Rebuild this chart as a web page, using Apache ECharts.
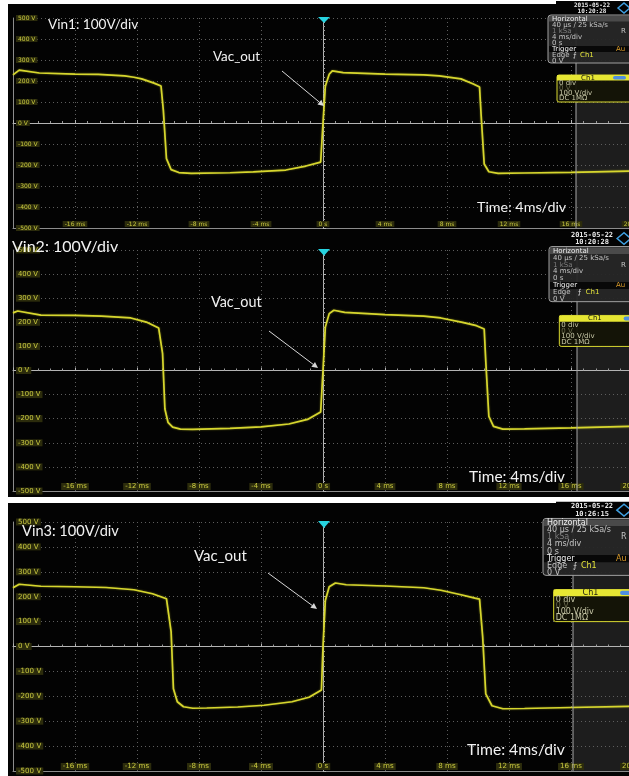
<!DOCTYPE html>
<html>
<head>
<meta charset="utf-8">
<script src="https://cdn.jsdelivr.net/npm/echarts@6/dist/echarts.min.js"></script>
<style>
  html, body { margin: 0; padding: 0; background: #ffffff; }
  #chart { width: 629px; height: 776px; }
</style>
</head>
<body>
<div id="chart"></div>
<script>
// Captured waveforms: time in ms, voltage in V
const time1 = [-20, -19.6, -18.3, -16, -14.5, -12.8, -12.2, -11.7, -10.9, -10.45, -10.3, -10.1, -9.8, -9.3, -8.5, -6.0, -4.5, -2.4, -1.1, -0.15, 0.0, 0.15, 0.4, 0.6, 1.3, 4.0, 6.5, 7.5, 8.9, 9.7, 10.1, 10.2, 10.4, 10.7, 11.3, 13, 16, 19.8];
const vin1  = [229, 252, 238, 233, 232, 224, 218, 210, 190, 176, 60, -170, -222, -236, -240, -237, -233, -224, -205, -186, 0, 175, 232, 248, 240, 233, 229, 224, 210, 186, 171, 40, -195, -232, -240, -238, -235, -229];

const time2 = [-20, -19.7, -18.2, -16, -14.3, -12.4, -11.4, -10.6, -10.35, -10.2, -10.0, -9.7, -9.2, -8.4, -6.0, -4.0, -2.2, -1.0, -0.15, 0.0, 0.15, 0.4, 0.7, 1.4, 4.0, 6.5, 7.6, 9.0, 9.9, 10.4, 10.5, 10.7, 11.0, 11.6, 13, 16, 19.8];
const vin2  = [239, 247, 230, 229, 226, 218, 201, 176, 70, -160, -215, -235, -243, -244, -240, -234, -222, -203, -172, 0, 180, 236, 250, 241, 232, 226, 218, 200, 186, 172, 40, -190, -232, -243, -242, -238, -232];

const time3 = [-20, -19.6, -18.2, -16, -14.0, -12.2, -11.0, -10.1, -9.8, -9.65, -9.4, -9.0, -8.4, -7.5, -5.5, -3.8, -2.0, -0.9, -0.1, 0.0, 0.15, 0.4, 0.8, 1.5, 4.0, 6.5, 7.6, 8.9, 9.8, 10.1, 10.3, 10.5, 10.9, 11.6, 13, 16, 19.8];
const vin3  = [236, 250, 242, 240, 237, 228, 212, 192, 60, -170, -222, -242, -248, -247, -243, -236, -222, -204, -175, 0, 185, 240, 255, 248, 243, 236, 226, 208, 194, 190, 40, -190, -238, -250, -249, -245, -240];

// Axis ticks and their texts
const timeTicks = [-20, -16, -12, -8, -4, 0, 4, 8, 12, 16, 20];
const timeTickText = ['', '-16 ms', '-12 ms', '-8 ms', '-4 ms', '0 s', '4 ms', '8 ms', '12 ms', '16 ms', '20 ms'];
const voltTicks = [-500, -400, -300, -200, -100, 0, 100, 200, 300, 400, 500];
const voltTickText = ['-500 V', '-400 V', '-300 V', '-200 V', '-100 V', '0 V', '100 V', '200 V', '300 V', '400 V', '500 V'];

const channelTitles = ['Vin1: 100V/div', 'Vin2: 100V/div', 'Vin3: 100V/div'];
const timestamps = [['2015-05-22', '10:20:28'], ['2015-05-22', '10:20:28'], ['2015-05-22', '10:26:15']];

const traces = [[time1, vin1], [time2, vin2], [time3, vin3]];

// Screen layout of the three stacked captures
const layout = [
  { top: 18,  height: 210, s: 1.0,   bgTop: 4,   bgBottom: 231, boxX: 548, vline: 576,
    titleX: 48, titleY: 18, titleFont: 13.6, vacX: 213, vacY: 50, vacFont: 13.4,
    arrow: [282, 71, 324, 106], timeX: 477, timeY: 200, timeFont: 14.3 },
  { top: 250, height: 241, s: 1.148, bgTop: 231, bgBottom: 497, boxX: 549, vline: 577,
    titleX: 12, titleY: 239, titleFont: 16, vacX: 211, vacY: 295, vacFont: 14.4,
    arrow: [269, 331, 318, 368], timeX: 469, timeY: 470, timeFont: 15.4 },
  { top: 522, height: 249, s: 1.186, bgTop: 503, bgBottom: 776, boxX: 543, vline: 573,
    titleX: 22, titleY: 524, titleFont: 14.6, vacX: 194, vacY: 549, vacFont: 15,
    arrow: [268, 573, 317, 609], timeX: 467, timeY: 742, timeFont: 15.7 }
];

const LABEL_YELLOW = '#c9c940';
const LABEL_BG = '#2c2c0c';
const TRACE = '#d6d62e';

function timeLabel(v) {
  const i = timeTicks.indexOf(Math.round(v));
  return i >= 0 ? timeTickText[i] : '';
}
function voltLabel(v) {
  const i = voltTicks.indexOf(Math.round(v));
  return i >= 0 ? voltTickText[i] : '';
}

const grids = [], xAxes = [], yAxes = [], series = [], graphics = [];

layout.forEach((p, i) => {
  grids.push({ left: 13, top: p.top, width: 620, height: p.height, containLabel: false, outerBoundsMode: 'none' });

  // outer axes carrying labels and dotted graticule
  xAxes.push({
    gridIndex: i, type: 'value', min: -20, max: 20, interval: 4, position: 'bottom',
    axisLine: { show: true, onZero: false, lineStyle: { color: '#8c8c8c', width: 1 } },
    axisTick: { show: false },
    axisLabel: {
      inside: true, margin: 1, formatter: timeLabel, showMinLabel: false,
      color: LABEL_YELLOW, fontSize: 6 * p.s, fontFamily: 'DejaVu Sans',
      backgroundColor: LABEL_BG, padding: [0, 2]
    },
    splitLine: { show: true, lineStyle: { color: '#5e5e5e', width: 1, type: [1, 3] } }
  });
  // centre crosshair with minor ticks
  xAxes.push({
    gridIndex: i, type: 'value', min: -20, max: 20, interval: 4, position: 'bottom',
    axisLine: { show: true, onZero: true, lineStyle: { color: '#b4b4b4', width: 1 } },
    axisTick: { show: true, inside: true, length: 3, lineStyle: { color: '#b4b4b4' } },
    minorTick: { show: true, splitNumber: 5, length: 2, lineStyle: { color: '#9a9a9a' } },
    axisLabel: { show: false }, splitLine: { show: false }
  });
  yAxes.push({
    gridIndex: i, type: 'value', min: -500, max: 500, interval: 100, position: 'left',
    axisLine: { show: true, onZero: false, lineStyle: { color: '#8c8c8c', width: 1 } },
    axisTick: { show: false },
    axisLabel: {
      inside: true, margin: 3, formatter: voltLabel,
      color: LABEL_YELLOW, fontSize: 6 * p.s, fontFamily: 'DejaVu Sans',
      backgroundColor: LABEL_BG, padding: [0, 2]
    },
    splitLine: { show: true, lineStyle: { color: '#5e5e5e', width: 1, type: [1, 3] } }
  });
  yAxes.push({
    gridIndex: i, type: 'value', min: -500, max: 500, interval: 100, position: 'left',
    axisLine: { show: true, onZero: true, lineStyle: { color: '#b4b4b4', width: 1 } },
    axisTick: { show: true, inside: true, length: 3, lineStyle: { color: '#b4b4b4' } },
    minorTick: { show: true, splitNumber: 5, length: 2, lineStyle: { color: '#9a9a9a' } },
    axisLabel: { show: false }, splitLine: { show: false }
  });

  const [tt, vv] = traces[i];
  series.push({
    type: 'line', xAxisIndex: 2 * i, yAxisIndex: 2 * i,
    data: tt.map((t, k) => [t, vv[k]]),
    showSymbol: false, z: 5, clip: true,
    lineStyle: { color: TRACE, width: 1.7, shadowColor: 'rgba(214,214,46,0.5)', shadowBlur: 2 }
  });

  const s = p.s;
  // black screen area
  graphics.push({ type: 'rect', z: -10, shape: { x: 8, y: p.bgTop, width: 621, height: p.bgBottom - p.bgTop }, style: { fill: '#030303' } });
  // shaded side region of the display
  graphics.push({ type: 'rect', z: -9, shape: { x: p.vline, y: p.top - 2, width: 629 - p.vline, height: p.height + 2 }, style: { fill: '#1d1d1d' } });
  graphics.push({ type: 'line', z: 30, shape: { x1: p.vline, y1: p.top - 2, x2: p.vline, y2: p.top + p.height }, style: { stroke: '#a8a8a8', lineWidth: 1 } });

  // trigger marker
  graphics.push({ type: 'polygon', z: 40, shape: { points: [[318, p.top - 1], [330, p.top - 1], [324, p.top + 5 * s]] }, style: { fill: '#27d3e0' } });

  // channel title, annotation, time base
  graphics.push({ type: 'text', z: 50, x: p.titleX, y: p.titleY, style: { text: channelTitles[i], fill: '#f2f2f2', font: `${p.titleFont}px Lato`, textVerticalAlign: 'top' } });
  graphics.push({ type: 'text', z: 50, x: p.vacX, y: p.vacY, style: { text: 'Vac_out', fill: '#f2f2f2', font: `${p.vacFont}px Lato`, textVerticalAlign: 'top' } });
  graphics.push({ type: 'text', z: 50, x: p.timeX, y: p.timeY, style: { text: 'Time: 4ms/div', fill: '#f2f2f2', font: `${p.timeFont}px Lato`, textVerticalAlign: 'top' } });

  // arrow pointing at the output edge
  const [ax1, ay1, ax2, ay2] = p.arrow;
  const ang = Math.atan2(ay2 - ay1, ax2 - ax1);
  const hl = 6, hw = 3;
  const bx = ax2 - hl * Math.cos(ang), by = ay2 - hl * Math.sin(ang);
  graphics.push({ type: 'line', z: 50, shape: { x1: ax1, y1: ay1, x2: bx, y2: by }, style: { stroke: '#d8d8d8', lineWidth: 1 } });
  graphics.push({ type: 'polygon', z: 50, shape: { points: [[ax2, ay2], [bx + hw * Math.sin(ang), by - hw * Math.cos(ang)], [bx - hw * Math.sin(ang), by + hw * Math.cos(ang)]] }, style: { fill: '#d8d8d8' } });

  // date / time stamp and logo
  const dY = p.top - 13 * s;
  graphics.push({ type: 'rect', z: 45, shape: { x: 556, y: dY - 4 * s, width: 73, height: 13 * s }, style: { fill: '#030303' } });
  graphics.push({ type: 'text', z: 50, x: 592, y: dY, style: { text: timestamps[i][0], fill: '#e8e8e8', font: `bold ${Math.round(6 * s)}px "DejaVu Sans Mono"`, textAlign: 'center', textVerticalAlign: 'middle' } });
  graphics.push({ type: 'text', z: 50, x: 592, y: dY + 6 * s, style: { text: timestamps[i][1], fill: '#e8e8e8', font: `bold ${Math.round(6 * s)}px "DejaVu Sans Mono"`, textAlign: 'center', textVerticalAlign: 'middle' } });
  const lx = 624, ly = dY + 3 * s;
  graphics.push({ type: 'polygon', z: 50, shape: { points: [[lx - 6 * s, ly], [lx, ly - 5 * s], [lx + 6 * s, ly], [lx, ly + 5 * s]] }, style: { fill: 'none', stroke: '#3f9fe0', lineWidth: 1.5 } });

  // Horizontal / Trigger info box
  const bx0 = p.boxX, by0 = p.top - 3 * s, row = 6 * s, fs = Math.round(6.5 * s);
  const mono = `${fs}px "DejaVu Sans"`;
  graphics.push({ type: 'rect', z: 60, shape: { x: bx0, y: by0, width: 640 - bx0, height: 48 * s, r: 3 }, style: { fill: 'rgba(38,38,38,0.95)', stroke: '#a0a0a0', lineWidth: 1 } });
  graphics.push({ type: 'rect', z: 61, shape: { x: bx0 + 1, y: by0 + 1, width: 640 - bx0, height: row - 0.5 }, style: { fill: '#4a4a4a' } });
  graphics.push({ type: 'rect', z: 61, shape: { x: bx0 + 1, y: by0 + 1 + 5 * row, width: 640 - bx0, height: row }, style: { fill: '#080808' } });
  const infoRows = [
    ['Horizontal', '#f0f0f0'], ['40 µs / 25 kSa/s', '#c4c4c4'], ['1 kSa', '#7c7c7c'], ['4 ms/div', '#c4c4c4'],
    ['0 s', '#c4c4c4'], ['Trigger', '#f0f0f0'], ['Edge', '#c4c4c4'], ['0 V', '#c4c4c4']
  ];
  infoRows.forEach((r, k) => {
    graphics.push({ type: 'text', z: 62, x: bx0 + 4, y: by0 + 1 + row * (k + 0.5), style: { text: r[0], fill: r[1], font: mono, textVerticalAlign: 'middle' } });
  });
  graphics.push({ type: 'text', z: 62, x: 621, y: by0 + 1 + row * 2.5, style: { text: 'R', fill: '#c4c4c4', font: mono, textVerticalAlign: 'middle' } });
  graphics.push({ type: 'text', z: 62, x: 616, y: by0 + 1 + row * 5.5, style: { text: 'Au', fill: '#d89a2a', font: mono, textVerticalAlign: 'middle' } });
  graphics.push({ type: 'text', z: 62, x: bx0 + 25 * s, y: by0 + 1 + row * 6.5, style: { text: '⨍', fill: '#e0e0e0', font: mono, textVerticalAlign: 'middle' } });
  graphics.push({ type: 'text', z: 62, x: bx0 + 32 * s, y: by0 + 1 + row * 6.5, style: { text: 'Ch1', fill: '#e4e43a', font: mono, textVerticalAlign: 'middle' } });

  // Channel 1 setup box
  const cx0 = bx0 + 9 * s, cy0 = p.top + 57 * s, crow = 5 * s;
  graphics.push({ type: 'rect', z: 60, shape: { x: cx0, y: cy0, width: 640 - cx0, height: 27 * s, r: 2 }, style: { fill: 'rgba(20,20,6,0.95)', stroke: '#d8d830', lineWidth: 1 } });
  graphics.push({ type: 'rect', z: 61, shape: { x: cx0, y: cy0, width: 640 - cx0, height: 5.5 * s }, style: { fill: '#e6e633' } });
  graphics.push({ type: 'text', z: 62, x: cx0 + 31 * s, y: cy0 + 2.8 * s, style: { text: 'Ch1', fill: '#202010', font: mono, textAlign: 'center', textVerticalAlign: 'middle' } });
  graphics.push({ type: 'rect', z: 62, shape: { x: cx0 + 56 * s, y: cy0 + 1 * s, width: 13 * s, height: 3.5 * s, r: 2 }, style: { fill: '#4f8fe0' } });
  const chRows = [['0 div', '#c8c8a8'], ['0 V', '#6c6c50'], ['100 V/div', '#c8c8a8'], ['DC 1MΩ', '#c8c8a8']];
  chRows.forEach((r, k) => {
    graphics.push({ type: 'text', z: 62, x: cx0 + 2, y: cy0 + 8.5 * s + crow * k, style: { text: r[0], fill: r[1], font: mono, textVerticalAlign: 'middle' } });
  });
});

const chart = echarts.init(document.getElementById('chart'), null, { renderer: 'canvas' });
chart.setOption({
  backgroundColor: '#ffffff',
  animation: false,
  grid: grids,
  xAxis: xAxes,
  yAxis: yAxes,
  series: series,
  graphic: { elements: graphics }
});
</script>
</body>
</html>
